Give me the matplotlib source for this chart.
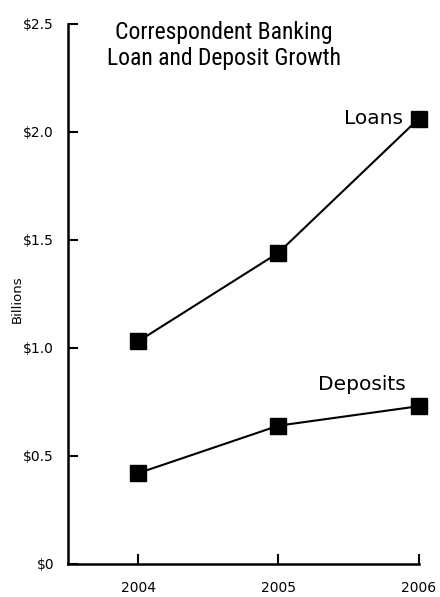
import matplotlib.pyplot as plt
from matplotlib import font_manager

years = [2004, 2005, 2006]
loans = [1.03, 1.44, 2.06]
deposits = [0.42, 0.64, 0.73]
yticks = [0, 0.5, 1.0, 1.5, 2.0, 2.5]
ytick_labels = ["$0", "$0.5", "$1.0", "$1.5", "$2.0", "$2.5"]

names = set(f.name for f in font_manager.fontManager.ttflist)
narrow = "DejaVu Sans"
for n in ["Liberation Sans Narrow", "DejaVu Sans Condensed", "Roboto Condensed", "Open Sans Condensed"]:
    if n in names:
        narrow = n
        break

fig = plt.figure(figsize=(4.4, 5.97), dpi=100)
ax = fig.add_axes([0.1545, 0.0553, 0.797, 0.905])

ax.plot(years, loans, "-s", color="black", linewidth=1.5, markersize=11, clip_on=False)
ax.plot(years, deposits, "-s", color="black", linewidth=1.5, markersize=11, clip_on=False)

ax.set_xlim(2003.5, 2006)
ax.set_ylim(0, 2.5)

ax.set_xticks(years)
ax.set_xticklabels([str(y) for y in years], fontsize=10)
ax.set_yticks(yticks)
ax.set_yticklabels(ytick_labels, fontsize=10)
ax.tick_params(axis="both", direction="in", length=7, width=1.5)
ax.tick_params(axis="x", pad=12)
ax.tick_params(axis="y", pad=10)

for s in ["top", "right"]:
    ax.spines[s].set_visible(False)
for s in ["left", "bottom"]:
    ax.spines[s].set_linewidth(1.8)

ax.set_ylabel("Billions", fontsize=9.5)
ax.yaxis.set_label_coords(-0.125, 0.49)

title_size = 17 if narrow != "DejaVu Sans" else 13
ax.text(2004.61, 2.40, "Correspondent Banking\nLoan and Deposit Growth",
        fontsize=title_size, ha="center", va="center", family=narrow,
        linespacing=1.15)
ax.text(2005.89, loans[2], "Loans", fontsize=14.5, ha="right", va="center")
ax.text(2005.91, deposits[2] + 0.10, "Deposits", fontsize=14.5, ha="right", va="center")

plt.savefig("out.png", dpi=100)
